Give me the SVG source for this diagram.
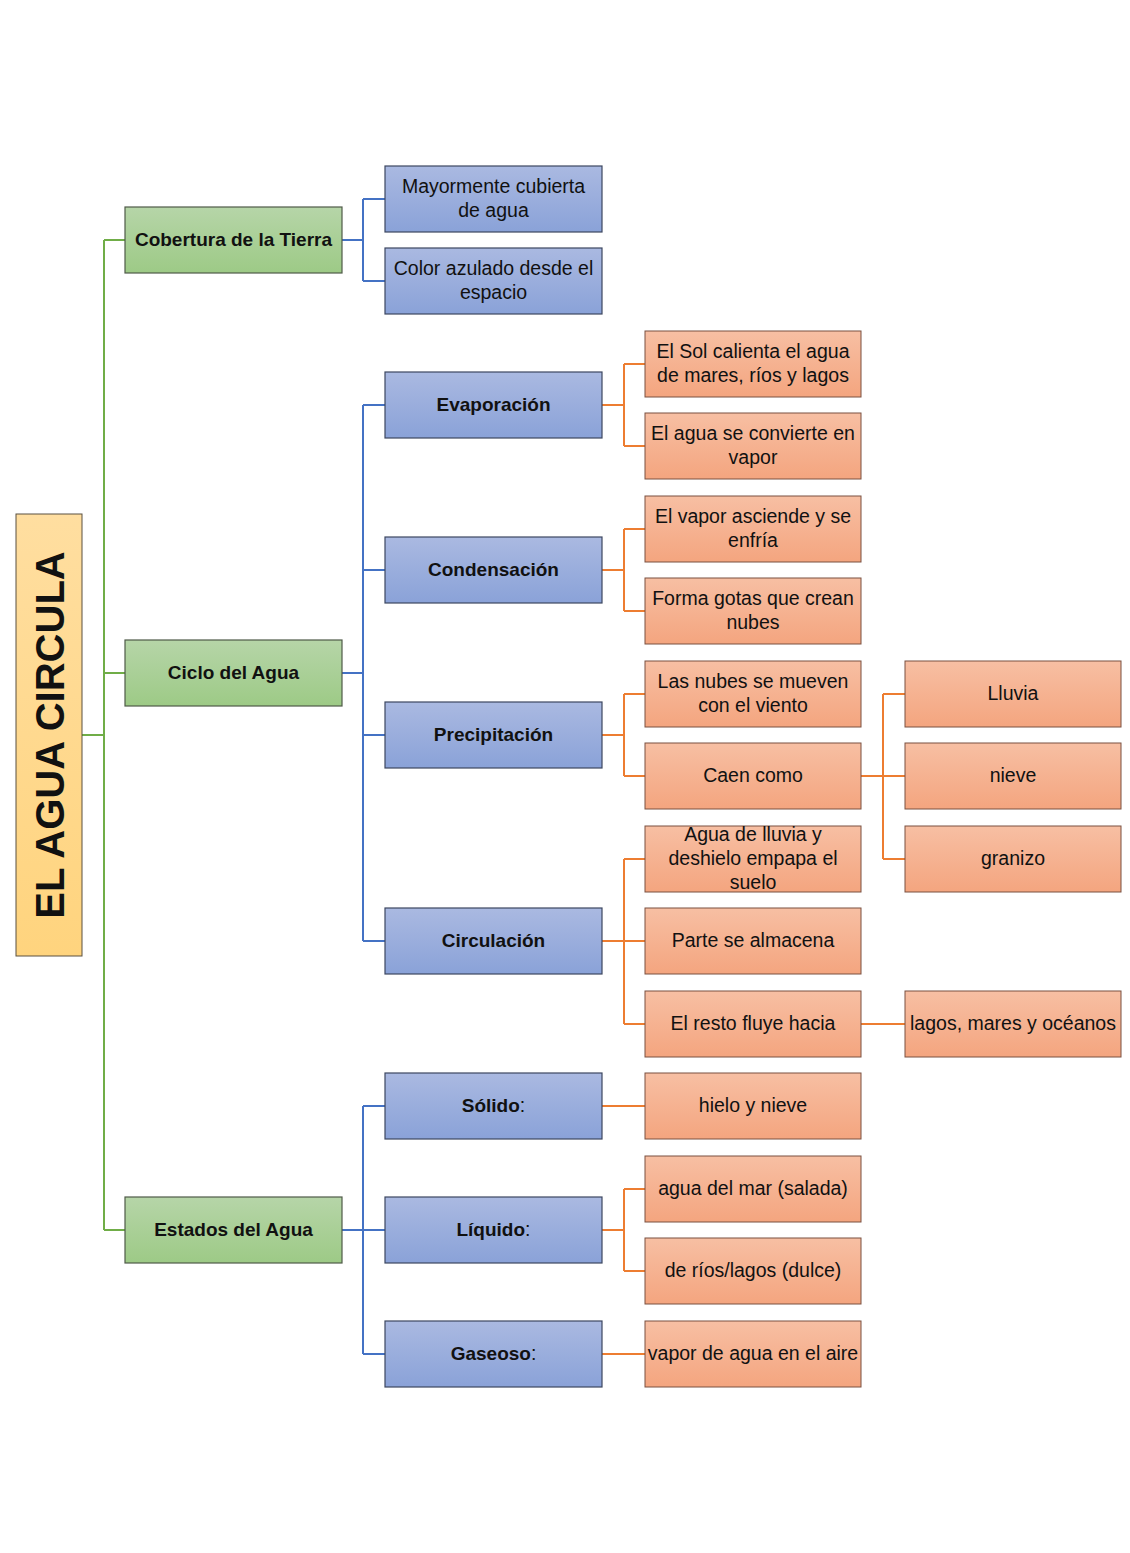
<svg xmlns="http://www.w3.org/2000/svg" width="1130" height="1553" viewBox="0 0 1130 1553">
<defs>
<linearGradient id="gY" x1="0" y1="0" x2="0" y2="1"><stop offset="0" stop-color="#FFDEA0"/><stop offset="1" stop-color="#FFD47E"/></linearGradient>
<linearGradient id="gG" x1="0" y1="0" x2="0" y2="1"><stop offset="0" stop-color="#B6D5A8"/><stop offset="1" stop-color="#9DCA86"/></linearGradient>
<linearGradient id="gB" x1="0" y1="0" x2="0" y2="1"><stop offset="0" stop-color="#AAB9E1"/><stop offset="1" stop-color="#8AA2D8"/></linearGradient>
<linearGradient id="gO" x1="0" y1="0" x2="0" y2="1"><stop offset="0" stop-color="#F7BFA3"/><stop offset="1" stop-color="#F4A57F"/></linearGradient>
</defs>
<style>
.y{fill:url(#gY);stroke:#5a5040;stroke-width:1}
.g{fill:url(#gG);stroke:#4f5a48;stroke-width:1.2}
.b{fill:url(#gB);stroke:#3c4660;stroke-width:1.2}
.o{fill:url(#gO);stroke:#7a5040;stroke-width:1}
text{font-family:"Liberation Sans",Arial,sans-serif;font-size:19.5px;fill:#111;text-anchor:middle}
.bd{font-weight:bold;font-size:19px}
.root{font-size:40px;font-weight:bold}
.cg{fill:none;stroke:#70AD47;stroke-width:2}
.cb{fill:none;stroke:#4472C4;stroke-width:2}
.co{fill:none;stroke:#ED7D31;stroke-width:2}
</style>
<g id="connectors">
<path class="cg" d="M82,735H104M104,240V1230M104,240H125M104,673H125M104,1230H125"/>
<path class="cb" d="M342,240H363M363,199V281M363,199H385M363,281H385"/>
<path class="cb" d="M342,673H363M363,405V941M363,405H385M363,570H385M363,735H385M363,941H385"/>
<path class="cb" d="M342,1230H363M363,1106V1354M363,1106H385M363,1230H385M363,1354H385"/>
<path class="co" d="M602,405H624M624,364V446M624,364H645M624,446H645"/>
<path class="co" d="M602,570H624M624,529V611M624,529H645M624,611H645"/>
<path class="co" d="M602,735H624M624,694V776M624,694H645M624,776H645"/>
<path class="co" d="M861,776H883M883,694V859M883,694H905M883,776H905M883,859H905"/>
<path class="co" d="M602,941H624M624,859V1024M624,859H645M624,941H645M624,1024H645"/>
<path class="co" d="M861,1024H905"/>
<path class="co" d="M602,1106H645"/>
<path class="co" d="M602,1230H624M624,1189V1271M624,1189H645M624,1271H645"/>
<path class="co" d="M602,1354H645"/>
</g>
<g id="root"><rect class="y" x="16" y="514" width="66" height="442"/><text class="root" transform="translate(64,735) rotate(-90)">EL AGUA CIRCULA</text></g>
<g id="cobertura"><rect class="g" x="125" y="207" width="217" height="66"/><text class="bd" x="233.5" y="246">Cobertura de la Tierra</text></g>
<g id="ciclo"><rect class="g" x="125" y="640" width="217" height="66"/><text class="bd" x="233.5" y="679">Ciclo del Agua</text></g>
<g id="estados"><rect class="g" x="125" y="1197" width="217" height="66"/><text class="bd" x="233.5" y="1236">Estados del Agua</text></g>
<g id="mayormente"><rect class="b" x="385" y="166" width="217" height="66"/><text x="493.5" y="193">Mayormente cubierta</text><text x="493.5" y="217">de agua</text></g>
<g id="color"><rect class="b" x="385" y="248" width="217" height="66"/><text x="493.5" y="275">Color azulado desde el</text><text x="493.5" y="299">espacio</text></g>
<g id="evaporacion"><rect class="b" x="385" y="372" width="217" height="66"/><text class="bd" x="493.5" y="411">Evaporación</text></g>
<g id="condensacion"><rect class="b" x="385" y="537" width="217" height="66"/><text class="bd" x="493.5" y="576">Condensación</text></g>
<g id="precipitacion"><rect class="b" x="385" y="702" width="217" height="66"/><text class="bd" x="493.5" y="741">Precipitación</text></g>
<g id="circulacion"><rect class="b" x="385" y="908" width="217" height="66"/><text class="bd" x="493.5" y="947">Circulación</text></g>
<g id="solido"><rect class="b" x="385" y="1073" width="217" height="66"/><text x="493.5" y="1112"><tspan class="bd">Sólido</tspan>:</text></g>
<g id="liquido"><rect class="b" x="385" y="1197" width="217" height="66"/><text x="493.5" y="1236"><tspan class="bd">Líquido</tspan>:</text></g>
<g id="gaseoso"><rect class="b" x="385" y="1321" width="217" height="66"/><text x="493.5" y="1360"><tspan class="bd">Gaseoso</tspan>:</text></g>
<g id="sol"><rect class="o" x="645" y="331" width="216" height="66"/><text x="753" y="358">El Sol calienta el agua</text><text x="753" y="382">de mares, ríos y lagos</text></g>
<g id="vapor1"><rect class="o" x="645" y="413" width="216" height="66"/><text x="753" y="440">El agua se convierte en</text><text x="753" y="464">vapor</text></g>
<g id="asciende"><rect class="o" x="645" y="496" width="216" height="66"/><text x="753" y="523">El vapor asciende y se</text><text x="753" y="547">enfría</text></g>
<g id="gotas"><rect class="o" x="645" y="578" width="216" height="66"/><text x="753" y="605">Forma gotas que crean</text><text x="753" y="629">nubes</text></g>
<g id="nubes"><rect class="o" x="645" y="661" width="216" height="66"/><text x="753" y="688">Las nubes se mueven</text><text x="753" y="712">con el viento</text></g>
<g id="caen"><rect class="o" x="645" y="743" width="216" height="66"/><text x="753" y="782">Caen como</text></g>
<g id="lluviay"><rect class="o" x="645" y="826" width="216" height="66"/><text x="753" y="841">Agua de lluvia y</text><text x="753" y="865">deshielo empapa el</text><text x="753" y="889">suelo</text></g>
<g id="almacena"><rect class="o" x="645" y="908" width="216" height="66"/><text x="753" y="947">Parte se almacena</text></g>
<g id="resto"><rect class="o" x="645" y="991" width="216" height="66"/><text x="753" y="1030">El resto fluye hacia</text></g>
<g id="hielo"><rect class="o" x="645" y="1073" width="216" height="66"/><text x="753" y="1112">hielo y nieve</text></g>
<g id="mar"><rect class="o" x="645" y="1156" width="216" height="66"/><text x="753" y="1195">agua del mar (salada)</text></g>
<g id="rios"><rect class="o" x="645" y="1238" width="216" height="66"/><text x="753" y="1277">de ríos/lagos (dulce)</text></g>
<g id="aire"><rect class="o" x="645" y="1321" width="216" height="66"/><text x="753" y="1360">vapor de agua en el aire</text></g>
<g id="lluvia"><rect class="o" x="905" y="661" width="216" height="66"/><text x="1013" y="700">Lluvia</text></g>
<g id="nieve"><rect class="o" x="905" y="743" width="216" height="66"/><text x="1013" y="782">nieve</text></g>
<g id="granizo"><rect class="o" x="905" y="826" width="216" height="66"/><text x="1013" y="865">granizo</text></g>
<g id="lagos"><rect class="o" x="905" y="991" width="216" height="66"/><text x="1013" y="1030">lagos, mares y océanos</text></g>
</svg>
